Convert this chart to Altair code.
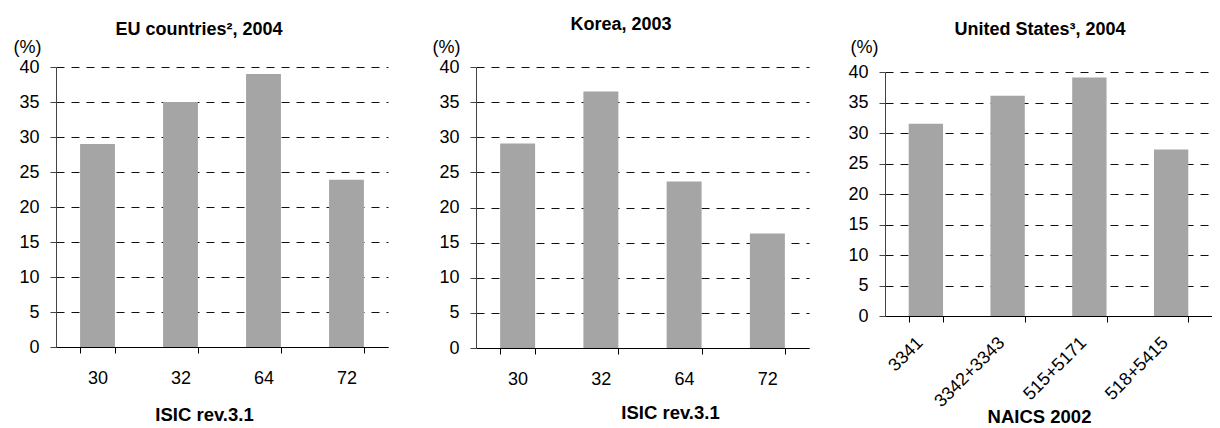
import altair as alt
import pandas as pd

# ---- data ----
eu_cats = ["30", "32", "64", "72"]
eu_vals = [29.0, 35.0, 39.0, 23.9]

kr_cats = ["30", "32", "64", "72"]
kr_vals = [29.1, 36.5, 23.7, 16.3]

us_cats = ["3341", "3342+3343", "515+5171", "518+5415"]
us_vals = [31.5, 36.1, 39.1, 27.3]

y_ticks = [0, 5, 10, 15, 20, 25, 30, 35, 40]

FONT = "Liberation Sans"
BAR = "#a5a5a5"


def panel(cats, vals, w, h, title, title_dx, title_offset, xtitle, xt_x, xt_y,
          pct_x, xrange=None, yrange=None, angle=0, lab_pad=16, lab_off=0):
    df = pd.DataFrame({"cat": cats, "val": vals})
    xs = dict(paddingInner=0.58, paddingOuter=0.29)
    if xrange is not None:
        xs["range"] = xrange
    ys = dict(domain=[0, 40], nice=False)
    if yrange is not None:
        ys["range"] = yrange
    xaxis = dict(
        title=xtitle, titleX=xt_x, titleY=xt_y, titleAlign="center",
        titleBaseline="middle", titleFontWeight="bold", titleFontSize=18.5,
        titleColor="#000", labelFontSize=18, labelColor="#000",
        labelAngle=angle, labelPadding=lab_pad, tickBand="extent",
        tickSize=6, tickColor="#000", domainColor="#000", grid=False,
    )
    if angle != 0:
        xaxis.update(labelAlign="right", labelBaseline="middle", labelOffset=lab_off)
    yaxis = dict(
        values=y_ticks, title="(%)", titleAngle=0, titleAlign="left",
        titleBaseline="middle", titleX=pct_x, titleY=-20,
        titleFontWeight="normal", titleFontSize=18, titleColor="#000",
        labelFontSize=18, labelColor="#000", labelPadding=11, tickSize=6,
        tickColor="#444", domainColor="#444", grid=True, gridDash=[8, 7],
        gridColor="#111", gridWidth=1,
    )
    return alt.Chart(df).mark_bar(color=BAR).encode(
        x=alt.X("cat:N", sort=cats, scale=alt.Scale(**xs), axis=alt.Axis(**xaxis)),
        y=alt.Y("val:Q", scale=alt.Scale(**ys), axis=alt.Axis(**yaxis)),
    ).properties(
        width=w, height=h,
        title=alt.TitleParams(title, anchor="start", align="center", dx=title_dx,
                              offset=title_offset, fontSize=18, fontWeight="bold",
                              color="#000", frame="group"),
    )


p1 = panel(eu_cats, eu_vals, 344, 280, "EU countries², 2004", 143, -1,
           "ISIC rev.3.1", 148, 67, -43, xrange=[0, 332])
p2 = panel(kr_cats, kr_vals, 333, 281, "Korea, 2003", 145, 4,
           "ISIC rev.3.1", 194, 64, -44)
p3 = panel(us_cats, us_vals, 327, 249, "United States³, 2004", 155, -1,
           "NAICS 2002", 154, 100, -35, yrange=[249, 5], angle=-45,
           lab_pad=18, lab_off=-6)

chart = alt.hconcat(p1, p2, p3, spacing=76, bounds="flush").properties(
    padding={"left": 5, "top": 8, "right": 0, "bottom": 0}
).configure(font=FONT).configure_view(stroke=None)

chart.save("out.html", embed_options={"renderer": "svg", "actions": False})
